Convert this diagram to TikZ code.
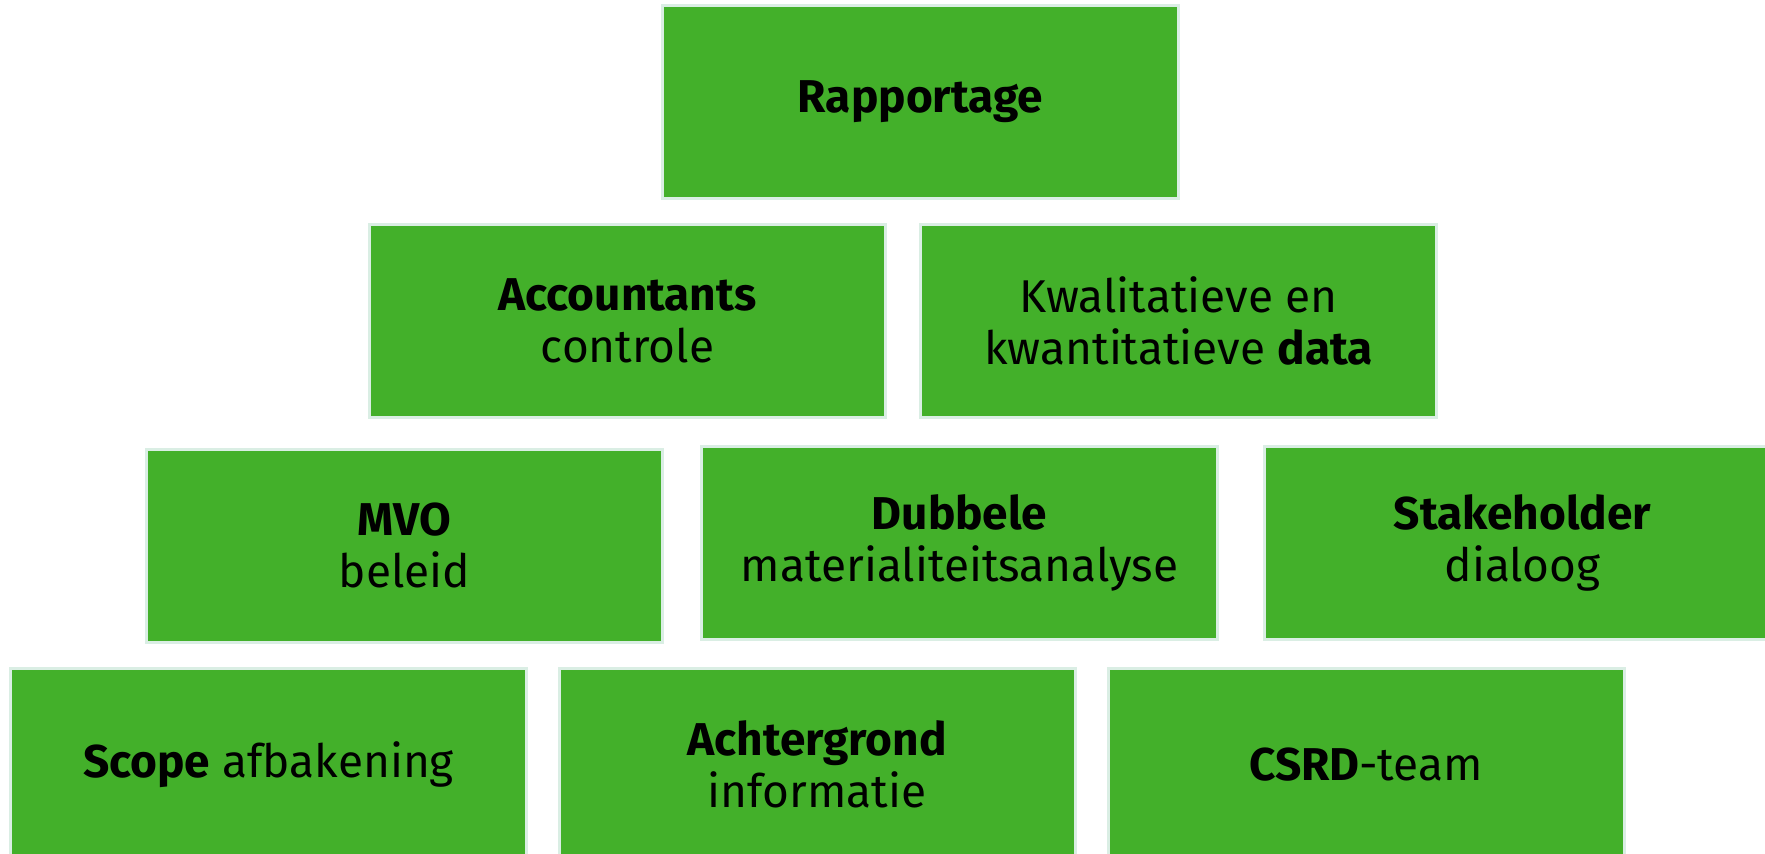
\documentclass[tikz,border=0pt]{standalone}
\usepackage{fontspec}
\setmainfont{Fira Sans}
\definecolor{boxgreen}{RGB}{67,176,42}
\definecolor{boxedge}{RGB}{218,238,228}
\tikzset{
  gbox/.style={rectangle, fill=boxgreen, draw=boxedge, line width=3pt,
    minimum width=516pt, minimum height=193pt, inner sep=0pt,
    align=center, text=black, font=\fontsize{46}{52}\selectfont}
}
\begin{document}
\begin{tikzpicture}[x=1pt,y=-1pt]
\useasboundingbox (0,0) rectangle (1765,854);
\clip (0,0) rectangle (1765,854);
\node[gbox] (rap) at (920.5,102) {\textbf{Rapportage}};
\node[gbox] (acc) at (627.5,320.5) {\textbf{Accountants}\\controle};
\node[gbox] (kwa) at (1178.5,320.5) {Kwalitatieve en\\kwantitatieve \textbf{data}};
\node[gbox] (mvo) at (404.5,545.5) {\textbf{MVO}\\beleid};
\node[gbox] (dub) at (959.5,542.5) {\textbf{Dubbele}\\materialiteitsanalyse};
\node[gbox] (sta) at (1522.5,542.5) {\textbf{Stakeholder}\\dialoog};
\node[gbox] (sco) at (268.5,764.5) {\textbf{Scope} afbakening};
\node[gbox] (ach) at (817,764.5) {\textbf{Achtergrond}\\informatie};
\node[gbox] (csr) at (1366,764.5) {\textbf{CSRD}-team};
\end{tikzpicture}
\end{document}
